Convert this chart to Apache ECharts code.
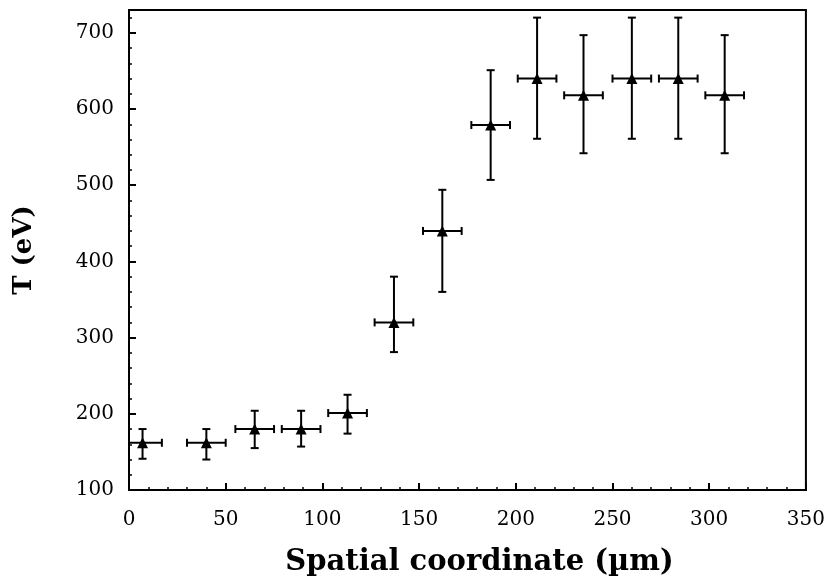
<!DOCTYPE html>
<html>
<head>
<meta charset="utf-8">
<script src="https://cdn.jsdelivr.net/npm/echarts@6/dist/echarts.min.js"></script>
<style>
  html, body { margin: 0; padding: 0; background: #fff; }
  #chart { width: 828px; height: 582px; }
</style>
</head>
<body>
<div id="chart"></div>
<script>
// spatial position (um) and horizontal half-width
const xPos = [7, 40, 65, 89, 113, 137, 162, 187, 211, 235, 260, 284, 308]
const xErr = [10, 10, 10, 10, 10, 10, 10, 10, 10, 10, 10, 10, 10]
// temperature (eV) with lower / upper error limits
const temp = [162, 162, 180, 180, 201, 320, 440, 579, 640, 618, 640, 640, 618]
const tempLow = [141, 140, 155, 157, 174, 281, 360, 507, 561, 542, 561, 561, 542]
const tempHigh = [180, 180, 204, 204, 225, 380, 494, 651, 720, 697, 720, 720, 697]

const xTicks = [0, 50, 100, 150, 200, 250, 300, 350]
const yTicks = [100, 200, 300, 400, 500, 600, 700]

let points = xPos.map((x, i) => [x, temp[i]])
let bars = xPos.map((x, i) => [x, temp[i], tempLow[i], tempHigh[i], xErr[i]])

const serif = 'DejaVu Serif'

let chart = echarts.init(document.getElementById('chart'))

function errorBar(params, api) {
  let x = api.value(0)
  let y = api.value(1)
  let lo = api.value(2)
  let hi = api.value(3)
  let dx = api.value(4)
  let c = api.coord([x, y])
  let top = api.coord([x, hi])
  let bot = api.coord([x, lo])
  let left = api.coord([x - dx, y])
  let right = api.coord([x + dx, y])
  let cap = 4
  let style = { stroke: '#000', lineWidth: 2 }
  let lines = [
    [top[0], top[1], bot[0], bot[1]],
    [top[0] - cap, top[1], top[0] + cap, top[1]],
    [bot[0] - cap, bot[1], bot[0] + cap, bot[1]],
    [left[0], c[1], right[0], c[1]],
    [left[0], c[1] - cap, left[0], c[1] + cap],
    [right[0], c[1] - cap, right[0], c[1] + cap]
  ]
  return {
    type: 'group',
    children: lines.map(l => ({
      type: 'line',
      shape: { x1: l[0], y1: l[1], x2: l[2], y2: l[3] },
      style: style
    }))
  }
}

let opts = {
  animation: false,
  backgroundColor: '#fff',
  grid: {
    left: 129, right: 17, top: 10, bottom: 92,
    show: true, borderColor: '#000', borderWidth: 2
  },
  xAxis: {
    type: 'value',
    min: xTicks[0], max: xTicks[xTicks.length - 1], interval: 50,
    name: 'Spatial coordinate (µm)',
    nameLocation: 'middle',
    nameGap: 58,
    nameTextStyle: { fontFamily: serif, fontWeight: 'bold', fontSize: 29, color: '#000', padding: [0, 0, 0, 24] },
    axisLine: { lineStyle: { color: '#000', width: 2 } },
    axisTick: { inside: true, length: 7, lineStyle: { color: '#000', width: 2 } },
    minorTick: { show: true, splitNumber: 5, length: 3, lineStyle: { color: '#000', width: 1.5 } },
    axisLabel: { fontFamily: serif, fontSize: 20, color: '#000', margin: 20 },
    splitLine: { show: false }
  },
  yAxis: {
    type: 'value',
    min: yTicks[0], max: 730, interval: 100,
    name: 'T (eV)',
    nameLocation: 'middle',
    nameRotate: 90,
    nameGap: 92,
    nameTextStyle: { fontFamily: serif, fontWeight: 'bold', fontSize: 26, color: '#000' },
    axisLine: { lineStyle: { color: '#000', width: 2 } },
    axisTick: { inside: true, length: 7, lineStyle: { color: '#000', width: 2 } },
    minorTick: { show: true, splitNumber: 5, length: 3, lineStyle: { color: '#000', width: 1.5 } },
    axisLabel: {
      fontFamily: serif, fontSize: 20, color: '#000', margin: 15,
      formatter: v => (yTicks.indexOf(v) >= 0 ? String(v) : '')
    },
    splitLine: { show: false }
  },
  series: [
    {
      type: 'custom',
      renderItem: errorBar,
      data: bars,
      clip: true,
      encode: { x: 0, y: [1, 2, 3] },
      z: 2
    },
    {
      type: 'scatter',
      data: points,
      symbol: 'triangle',
      symbolSize: 11,
      itemStyle: { color: '#000', opacity: 1 },
      z: 3
    }
  ]
}

chart.setOption(opts)
</script>
</body>
</html>
